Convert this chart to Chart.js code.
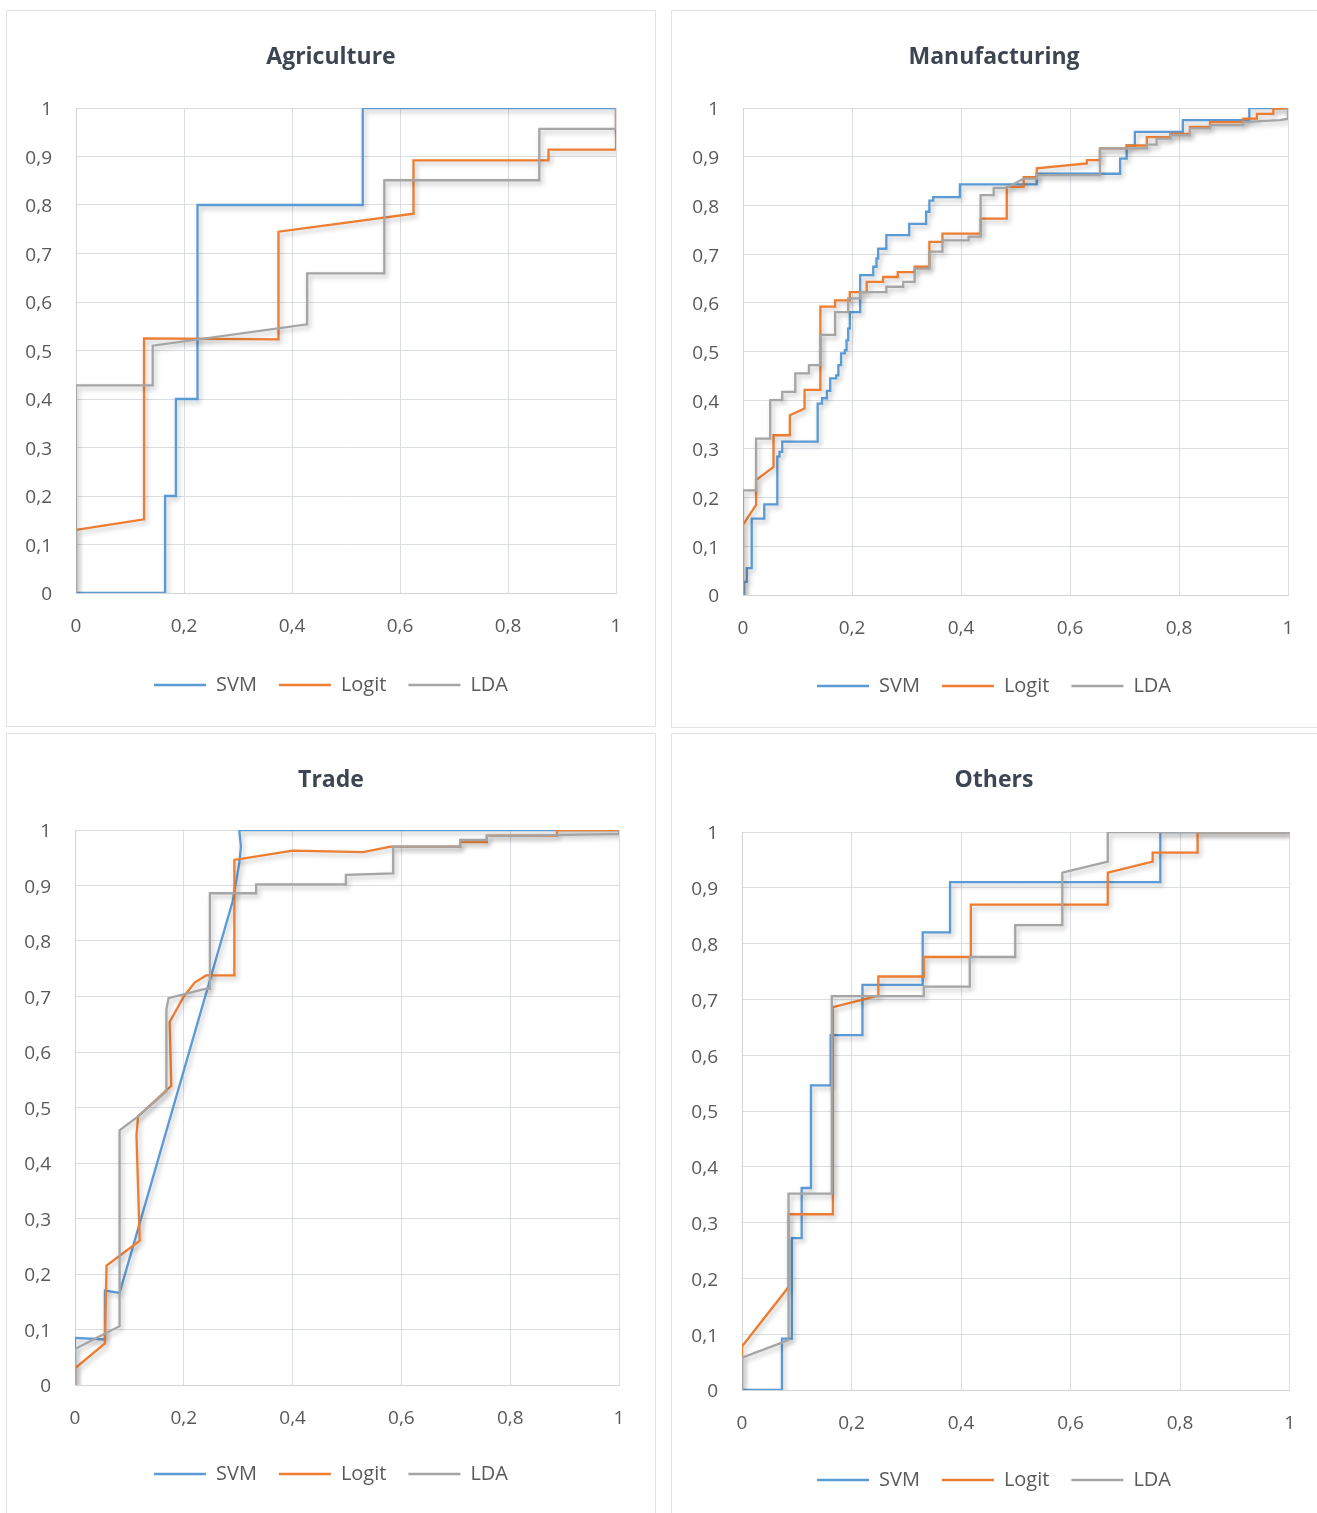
<!DOCTYPE html>
<html>
<head>
<meta charset="utf-8">
<title>ROC curves by sector</title>
<script src="https://cdn.jsdelivr.net/npm/chart.js@4.4.1/dist/chart.umd.min.js"></script>
<style>
  html, body { margin: 0; padding: 0; background: #ffffff; }
  body { width: 1317px; height: 1513px; position: relative; overflow: hidden; }
  .frame { position: absolute; box-sizing: border-box; border: 1px solid #e1e3e6; background: #ffffff; }
  canvas { position: absolute; }
</style>
</head>
<body>
<div class="frame" style="left:6px;top:10px;width:650px;height:717px"></div>
<div class="frame" style="left:671px;top:10px;width:648px;height:718px"></div>
<div class="frame" style="left:6px;top:733px;width:650px;height:782px"></div>
<div class="frame" style="left:671px;top:733px;width:648px;height:782px"></div>
<canvas id="c0"></canvas>
<canvas id="c1"></canvas>
<canvas id="c2"></canvas>
<canvas id="c3"></canvas>
<script>
// Series and panel names
const seriesNames = ['SVM', 'Logit', 'LDA'];
const panelTitles = ['Agriculture', 'Manufacturing', 'Trade', 'Others'];

// ROC points [false positive rate, true positive rate]
const agricultureSVM = [[0,0],[0.165,0],[0.165,0.2],[0.185,0.2],[0.185,0.4],[0.225,0.4],[0.225,0.8],[0.531,0.8],[0.531,1],[1,1]];
const agricultureLogit = [[0,0],[0,0.13],[0.126,0.152],[0.126,0.525],[0.375,0.523],[0.375,0.745],[0.625,0.782],[0.625,0.892],[0.875,0.892],[0.875,0.914],[1,0.914],[1,1]];
const agricultureLDA = [[0,0],[0,0.428],[0.142,0.428],[0.142,0.51],[0.428,0.554],[0.428,0.659],[0.571,0.659],[0.571,0.851],[0.858,0.851],[0.858,0.957],[1,0.957],[1,1]];

const manufacturingSVM = [[0,0],[0.002,0],[0.002,0.027],[0.007,0.027],[0.007,0.055],[0.016,0.055],[0.016,0.157],[0.039,0.157],[0.039,0.186],[0.063,0.186],[0.063,0.284],[0.067,0.284],[0.067,0.294],[0.072,0.294],[0.072,0.315],[0.137,0.315],[0.137,0.393],[0.145,0.393],[0.145,0.404],[0.154,0.404],[0.154,0.419],[0.16,0.419],[0.16,0.445],[0.171,0.445],[0.171,0.451],[0.175,0.451],[0.175,0.472],[0.18,0.472],[0.18,0.496],[0.187,0.496],[0.187,0.503],[0.19,0.503],[0.19,0.523],[0.193,0.523],[0.193,0.547],[0.196,0.547],[0.196,0.581],[0.215,0.581],[0.215,0.657],[0.239,0.657],[0.239,0.674],[0.245,0.674],[0.245,0.691],[0.248,0.691],[0.248,0.711],[0.263,0.711],[0.263,0.739],[0.305,0.739],[0.305,0.762],[0.336,0.762],[0.336,0.787],[0.342,0.787],[0.342,0.81],[0.349,0.81],[0.349,0.817],[0.398,0.817],[0.398,0.843],[0.539,0.843],[0.539,0.865],[0.692,0.865],[0.692,0.896],[0.704,0.896],[0.704,0.923],[0.719,0.923],[0.719,0.951],[0.807,0.951],[0.807,0.975],[0.929,0.975],[0.929,1],[1,1]];
const manufacturingLogit = [[0,0],[0,0.144],[0.024,0.185],[0.024,0.236],[0.056,0.263],[0.056,0.328],[0.086,0.328],[0.086,0.369],[0.113,0.383],[0.113,0.421],[0.142,0.421],[0.142,0.592],[0.169,0.592],[0.169,0.605],[0.196,0.605],[0.196,0.622],[0.227,0.622],[0.227,0.643],[0.257,0.643],[0.257,0.653],[0.284,0.653],[0.284,0.663],[0.315,0.663],[0.315,0.674],[0.342,0.674],[0.342,0.725],[0.366,0.725],[0.366,0.742],[0.436,0.742],[0.436,0.773],[0.484,0.773],[0.484,0.838],[0.515,0.838],[0.515,0.858],[0.539,0.858],[0.539,0.876],[0.631,0.886],[0.631,0.893],[0.655,0.893],[0.655,0.917],[0.704,0.917],[0.704,0.923],[0.741,0.923],[0.741,0.94],[0.784,0.94],[0.784,0.947],[0.82,0.947],[0.82,0.961],[0.857,0.961],[0.857,0.971],[0.918,0.971],[0.918,0.978],[0.943,0.978],[0.943,0.988],[0.973,0.988],[0.973,0.998],[1,1]];
const manufacturingLDA = [[0,0],[0,0.215],[0.024,0.215],[0.024,0.321],[0.05,0.321],[0.05,0.4],[0.072,0.4],[0.072,0.417],[0.096,0.417],[0.096,0.455],[0.121,0.455],[0.121,0.472],[0.142,0.472],[0.142,0.534],[0.169,0.534],[0.169,0.581],[0.193,0.581],[0.193,0.609],[0.215,0.609],[0.215,0.622],[0.263,0.622],[0.263,0.633],[0.294,0.633],[0.294,0.643],[0.315,0.643],[0.315,0.67],[0.342,0.67],[0.342,0.705],[0.366,0.705],[0.366,0.728],[0.414,0.728],[0.414,0.736],[0.436,0.736],[0.436,0.821],[0.46,0.821],[0.46,0.836],[0.484,0.836],[0.515,0.855],[0.539,0.855],[0.539,0.862],[0.655,0.862],[0.655,0.917],[0.741,0.917],[0.741,0.925],[0.759,0.925],[0.759,0.937],[0.784,0.937],[0.784,0.944],[0.82,0.944],[0.82,0.958],[0.857,0.958],[0.857,0.965],[0.918,0.965],[0.918,0.971],[0.985,0.975],[1,0.978],[1,1]];

const tradeSVM = [[0,0],[0,0.085],[0.055,0.082],[0.055,0.17],[0.082,0.166],[0.29,0.872],[0.302,0.94],[0.305,0.97],[0.302,1],[1,1]];
const tradeLogit = [[0,0],[0,0.03],[0.055,0.075],[0.058,0.215],[0.119,0.26],[0.113,0.45],[0.116,0.484],[0.177,0.539],[0.174,0.654],[0.2,0.7],[0.22,0.725],[0.241,0.738],[0.293,0.738],[0.293,0.946],[0.4,0.963],[0.53,0.96],[0.58,0.97],[0.708,0.97],[0.708,0.978],[0.757,0.978],[0.757,0.99],[0.886,0.99],[0.886,1],[1,1]];
const tradeLDA = [[0,0],[0,0.065],[0.05,0.09],[0.082,0.106],[0.082,0.459],[0.116,0.484],[0.168,0.529],[0.168,0.677],[0.172,0.697],[0.241,0.714],[0.248,0.714],[0.248,0.886],[0.333,0.886],[0.333,0.902],[0.498,0.902],[0.498,0.919],[0.585,0.922],[0.585,0.97],[0.708,0.97],[0.708,0.982],[0.757,0.982],[0.757,0.99],[0.831,0.99],[1,0.993],[1,1]];

const othersSVM = [[0,0],[0.073,0],[0.073,0.092],[0.091,0.092],[0.091,0.272],[0.109,0.272],[0.109,0.362],[0.126,0.362],[0.126,0.546],[0.162,0.546],[0.162,0.636],[0.22,0.636],[0.22,0.726],[0.33,0.726],[0.33,0.82],[0.38,0.82],[0.38,0.91],[0.764,0.91],[0.764,1],[1,1]];
const othersLogit = [[0,0],[0,0.078],[0.083,0.182],[0.085,0.182],[0.085,0.315],[0.166,0.315],[0.166,0.686],[0.246,0.706],[0.249,0.706],[0.249,0.741],[0.332,0.741],[0.332,0.776],[0.418,0.776],[0.418,0.87],[0.668,0.87],[0.668,0.927],[0.75,0.947],[0.75,0.963],[0.832,0.963],[0.832,1],[1,1]];
const othersLDA = [[0,0],[0,0.058],[0.073,0.085],[0.085,0.09],[0.085,0.352],[0.164,0.352],[0.164,0.706],[0.332,0.706],[0.332,0.723],[0.416,0.723],[0.416,0.776],[0.499,0.776],[0.499,0.833],[0.585,0.833],[0.585,0.927],[0.668,0.947],[0.668,1],[1,1]];

const panelSeries = [
  [agricultureSVM, agricultureLogit, agricultureLDA],
  [manufacturingSVM, manufacturingLogit, manufacturingLDA],
  [tradeSVM, tradeLogit, tradeLDA],
  [othersSVM, othersLogit, othersLDA]
];

// Styling and placement of each panel
const seriesColors = ['#5b9bd5', '#ed7d31', '#a5a5a5'];
const panelBoxes = [
  { left: 6,   top: 10,  width: 650, height: 717, plotLeft: 70, plotRight: 610, plotTop: 98, plotBottom: 583, titleY: 47, legendY: 675 },
  { left: 671, top: 10,  width: 646, height: 718, plotLeft: 72, plotRight: 617, plotTop: 98, plotBottom: 585, titleY: 47, legendY: 676 },
  { left: 6,   top: 733, width: 650, height: 780, plotLeft: 69, plotRight: 613, plotTop: 97, plotBottom: 652, titleY: 47, legendY: 741 },
  { left: 671, top: 733, width: 646, height: 780, plotLeft: 71, plotRight: 619, plotTop: 99, plotBottom: 657, titleY: 47, legendY: 747 }
];

const TEXT_FONT = "'Open Sans', 'DejaVu Sans', sans-serif";
const TITLE_SIZE = 23;
const TICK_SIZE = 19;
const LEGEND_SIZE = 20;
const LEGEND_PAD = 22;
const GRID_COLOR = '#dadde2';
const TEXT_COLOR = '#595959';

Chart.defaults.font.family = TEXT_FONT;

function decimalComma(v) {
  const r = Math.round(v * 10) / 10;
  if (r === 0) return '0';
  if (r === 1) return '1';
  return r.toFixed(1).replace('.', ',');
}

// soft drop shadow under the curves
const curveShadow = {
  id: 'curveShadow',
  beforeDatasetDraw(chart) {
    const c = chart.ctx;
    c.save();
    c.shadowColor = 'rgba(0,0,0,0.26)';
    c.shadowBlur = 5;
    c.shadowOffsetX = 2;
    c.shadowOffsetY = 3;
  },
  afterDatasetDraw(chart) {
    chart.ctx.restore();
  }
};

panelBoxes.forEach((box, i) => {
  const canvas = document.getElementById('c' + i);
  canvas.width = box.width;
  canvas.height = box.height;
  canvas.style.left = box.left + 'px';
  canvas.style.top = box.top + 'px';
  canvas.style.width = box.width + 'px';
  canvas.style.height = box.height + 'px';

  const titleLH = TITLE_SIZE * 1.2;
  const titlePadTop = box.titleY - titleLH / 2;
  const titlePadBottom = box.plotTop - titlePadTop - titleLH;
  const legendTop = box.legendY - LEGEND_PAD - 10;
  const xAxisHeight = legendTop - box.plotBottom;
  const layoutBottom = box.height - box.legendY - 20;
  const rightGap = box.width - box.plotRight;

  const datasets = panelSeries[i].map((pts, k) => ({
    label: seriesNames[k],
    data: pts.map(p => ({ x: p[0], y: p[1] })),
    borderColor: seriesColors[k],
    backgroundColor: seriesColors[k],
    borderWidth: 2.3,
    pointRadius: 0,
    pointHoverRadius: 0,
    tension: 0,
    fill: false,
    order: 3 - k
  }));

  new Chart(canvas, {
    type: 'line',
    data: { datasets },
    plugins: [curveShadow],
    options: {
      responsive: false,
      animation: false,
      events: [],
      devicePixelRatio: 1,
      layout: { padding: { left: 0, right: 0, top: 0, bottom: layoutBottom } },
      plugins: {
        title: {
          display: true,
          text: panelTitles[i],
          color: '#3d4452',
          font: { size: TITLE_SIZE, weight: 'bold', family: TEXT_FONT },
          padding: { top: titlePadTop, bottom: titlePadBottom }
        },
        legend: {
          display: true,
          position: 'bottom',
          labels: {
            usePointStyle: true,
            pointStyle: 'line',
            pointStyleWidth: 52,
            padding: LEGEND_PAD,
            color: TEXT_COLOR,
            font: { size: LEGEND_SIZE, family: TEXT_FONT },
            sort: (a, b) => a.datasetIndex - b.datasetIndex
          }
        },
        tooltip: { enabled: false }
      },
      scales: {
        x: {
          type: 'linear',
          min: 0,
          max: 1,
          ticks: {
            stepSize: 0.2,
            padding: 22,
            color: TEXT_COLOR,
            font: { size: TICK_SIZE },
            callback: v => decimalComma(v),
            maxRotation: 0
          },
          grid: { color: GRID_COLOR, lineWidth: 1, drawTicks: false },
          border: { color: '#d2d4d8', width: 1 },
          afterFit: s => { s.height = xAxisHeight; }
        },
        y: {
          type: 'linear',
          min: 0,
          max: 1,
          ticks: {
            stepSize: 0.1,
            padding: 24,
            labelOffset: 2,
            color: TEXT_COLOR,
            font: { size: TICK_SIZE },
            callback: v => decimalComma(v)
          },
          grid: { color: GRID_COLOR, lineWidth: 1, drawTicks: false },
          border: { color: '#d2d4d8', width: 1 },
          afterFit: s => { s.width = box.plotLeft; }
        },
        rightGap: {
          type: 'linear',
          position: 'right',
          display: true,
          ticks: { display: false },
          grid: { display: false, drawTicks: false },
          border: { display: false },
          afterFit: s => { s.width = rightGap; }
        }
      }
    }
  });
});
</script>
</body>
</html>
